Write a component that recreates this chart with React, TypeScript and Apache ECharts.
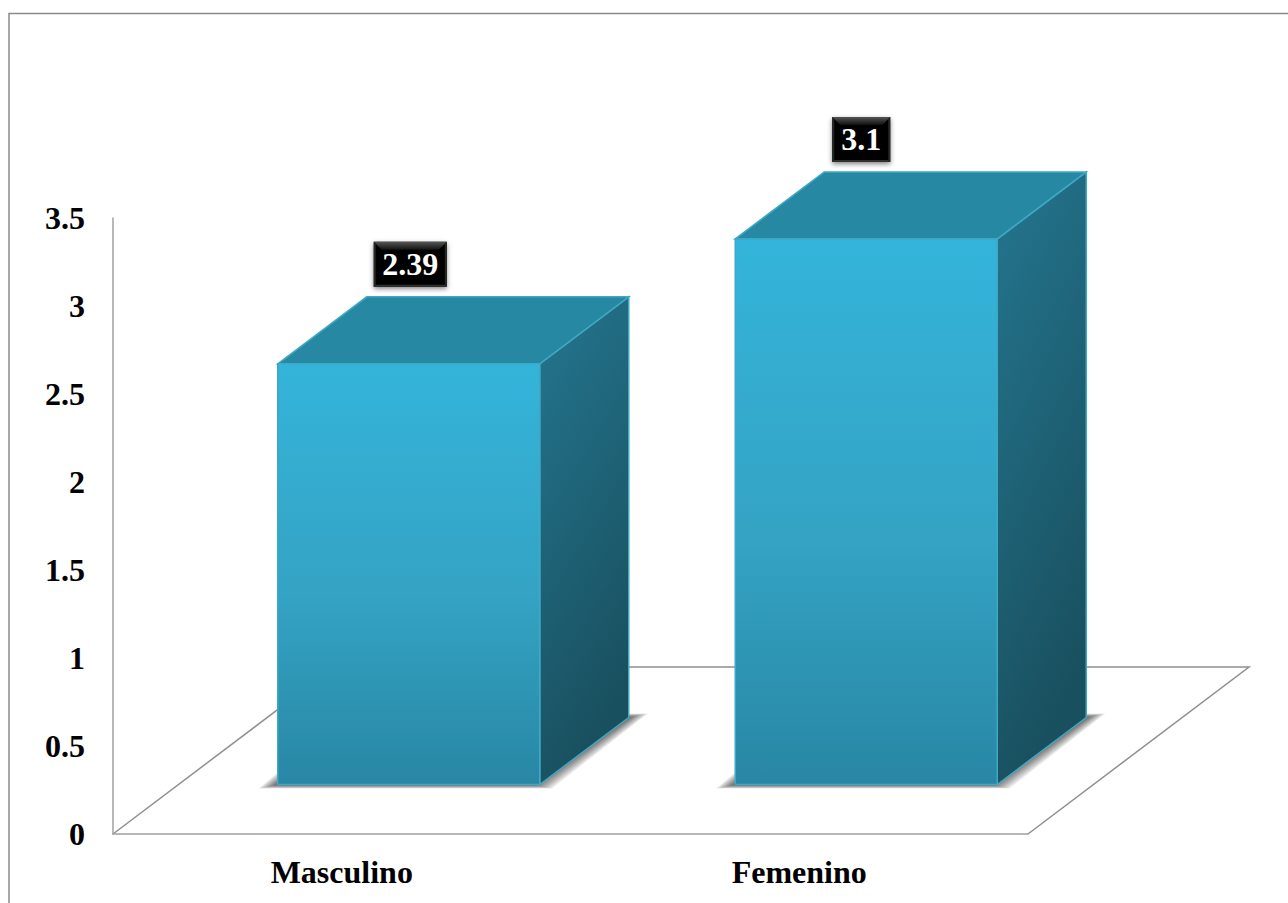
import React, { useEffect, useRef } from "react";
import * as echarts from "echarts";

// Mean score by sex, shown as extruded columns standing on a perspective floor.
const categories = ["Masculino", "Femenino"];
const scores = [2.39, 3.1];
const scoreLabels = ["2.39", "3.1"];

const FONT = '"Liberation Serif", "Times New Roman", serif';
const FLOOR_LEFT = 113;
const FLOOR_RIGHT = 1028;
const FLOOR_FRONT_Y = 834;
const FLOOR_DX = 221;
const FLOOR_DY = 167;
const GRID_TOP = 218;

// Column placement relative to the floor's front edge.
const BAR_SHIFT_X = 67;
const BAR_SHIFT_Y = 49.5;
const BAR_WIDTH = 262;
const DEPTH_X = 89;
const DEPTH_Y = 67;
const LABEL_NUDGE = [1.5, -5];
const LABEL_BOX_WIDTH = [73, 58];
const LABEL_BOX_HEIGHT = 45;
const LABEL_GAP = 10;

const grad = (x2: number, y2: number, stops: [number, string][]) =>
  new echarts.graphic.LinearGradient(
    0,
    0,
    x2,
    y2,
    stops.map(([offset, color]) => ({ offset, color }))
  );

function poly(points: number[][], style: any, extra: any = {}) {
  return { type: "polygon", shape: { points }, style, ...extra };
}

function renderColumn(params: any, api: any) {
  const idx = api.value(0);
  const value = api.value(1);
  const base = api.coord([idx, 0]);
  const top = api.coord([idx, value]);
  const cx = base[0] + BAR_SHIFT_X;
  const l = cx - BAR_WIDTH / 2;
  const r = cx + BAR_WIDTH / 2;
  const by = base[1] - BAR_SHIFT_Y;
  const ty = top[1] - BAR_SHIFT_Y;
  const edge = "#3fa8c4";

  // Soft contact shadow: stacked translucent footprints that fade outward.
  const shadow: any[] = [];
  for (let k = 0; k < 10; k++) {
    const t = k * 2.2;
    const inY = t * 0.2;
    shadow.push(
      poly(
        [
          [l - 19 + t, by + 4 - inY],
          [r + 12 - t, by + 4 - inY],
          [r + DEPTH_X + 19 - t, by - DEPTH_Y - 4 + inY],
          [l + DEPTH_X - 19 + t, by - DEPTH_Y - 4 + inY],
        ],
        { fill: "rgba(0,0,0,0.09)" }
      )
    );
  }

  const faces = [
    poly(
      [
        [r, ty],
        [r + DEPTH_X, ty - DEPTH_Y],
        [r + DEPTH_X, by - DEPTH_Y],
        [r, by],
      ],
      {
        fill: grad(0.3, 1, [
          [0, "#247690"],
          [1, "#19505f"],
        ]),
        stroke: edge,
        lineWidth: 1.5,
      }
    ),
    poly(
      [
        [l, ty],
        [l + DEPTH_X, ty - DEPTH_Y],
        [r + DEPTH_X, ty - DEPTH_Y],
        [r, ty],
      ],
      { fill: "#2788a4", stroke: edge, lineWidth: 1.5 }
    ),
    {
      type: "rect",
      shape: { x: l, y: ty, width: BAR_WIDTH, height: by - ty },
      style: {
        fill: grad(0, 1, [
          [0, "#34b4da"],
          [0.55, "#34a3c4"],
          [1, "#2887a4"],
        ]),
        stroke: edge,
        lineWidth: 1.5,
      },
    },
  ];

  // Value badge: black box with a bevelled rim.
  const w = LABEL_BOX_WIDTH[idx];
  const h = LABEL_BOX_HEIGHT;
  const bx = cx + LABEL_NUDGE[idx] - w / 2;
  const byTop = ty - DEPTH_Y - LABEL_GAP - h;
  const rim = 8;
  const badge = [
    {
      type: "rect",
      shape: { x: bx, y: byTop, width: w, height: h },
      style: {
        fill: "#000",
        shadowBlur: 5,
        shadowColor: "rgba(0,0,0,0.5)",
        shadowOffsetY: 2,
      },
    },
    poly(
      [
        [bx, byTop],
        [bx + w, byTop],
        [bx + w - rim, byTop + rim],
        [bx + rim, byTop + rim],
      ],
      {
        fill: grad(0, 1, [
          [0, "#555555"],
          [1, "#111111"],
        ]),
      }
    ),
    poly(
      [
        [bx, byTop],
        [bx + 2, byTop + 2],
        [bx + 2, byTop + h - 2],
        [bx, byTop + h],
      ],
      { fill: "#262626" }
    ),
    poly(
      [
        [bx + w, byTop],
        [bx + w - 2, byTop + 2],
        [bx + w - 2, byTop + h - 2],
        [bx + w, byTop + h],
      ],
      { fill: "#262626" }
    ),
    poly(
      [
        [bx, byTop + h],
        [bx + 2, byTop + h - 2],
        [bx + w - 2, byTop + h - 2],
        [bx + w, byTop + h],
      ],
      { fill: "#303030" }
    ),
    {
      type: "text",
      style: {
        x: bx + w / 2,
        y: byTop + h / 2,
        text: scoreLabels[idx],
        fill: "#fff",
        font: `bold 32px ${FONT}`,
        align: "center",
        verticalAlign: "middle",
      },
    },
  ];

  return { type: "group", children: [...shadow, ...faces, ...badge] };
}

export default function App() {
  const ref = useRef<HTMLDivElement>(null);

  useEffect(() => {
    const chart = echarts.init(ref.current!, undefined, { renderer: "svg" });
    const lineStyle = { stroke: "#8f8f8f", lineWidth: 1.5, fill: "none" };
    chart.setOption({
      animation: false,
      backgroundColor: "#fff",
      grid: {
        left: FLOOR_LEFT,
        top: GRID_TOP,
        width: FLOOR_RIGHT - FLOOR_LEFT,
        height: FLOOR_FRONT_Y - GRID_TOP,
      },
      xAxis: {
        type: "category",
        data: categories,
        axisLine: { show: true, lineStyle: { color: "#a0a0a0", width: 1.5 } },
        axisTick: { show: false },
        axisLabel: {
          color: "#000",
          fontFamily: FONT,
          fontWeight: "bold",
          fontSize: 32,
          margin: 22,
        },
      },
      yAxis: {
        type: "value",
        min: 0,
        max: 3.5,
        interval: 0.5,
        axisLine: { show: true, lineStyle: { color: "#a0a0a0", width: 1.5 } },
        axisTick: { show: false },
        splitLine: { show: false },
        axisLabel: {
          color: "#000",
          fontFamily: FONT,
          fontWeight: "bold",
          fontSize: 32,
          margin: 28,
          padding: [2, 0, 0, 0],
        },
      },
      graphic: [
        {
          type: "polyline",
          silent: true,
          z: 0,
          shape: {
            points: [
              [9, 903],
              [9, 13.5],
              [1288, 13.5],
            ],
          },
          style: { stroke: "#8a8a8a", lineWidth: 1.5, fill: "none" },
        },
        {
          type: "polyline",
          silent: true,
          z: 0,
          shape: {
            points: [
              [FLOOR_LEFT, FLOOR_FRONT_Y],
              [FLOOR_LEFT + FLOOR_DX, FLOOR_FRONT_Y - FLOOR_DY],
              [FLOOR_RIGHT + FLOOR_DX, FLOOR_FRONT_Y - FLOOR_DY],
              [FLOOR_RIGHT, FLOOR_FRONT_Y],
            ],
          },
          style: lineStyle,
        },
      ],
      series: [
        {
          type: "custom",
          z: 5,
          clip: false,
          renderItem: renderColumn,
          encode: { x: 0, y: 1 },
          data: scores.map((v, i) => [i, v]),
        },
      ],
    });
    return () => chart.dispose();
  }, []);

  return (
    <div
      ref={ref}
      style={{ position: "fixed", left: 0, top: 0, width: 1288, height: 903 }}
    />
  );
}
